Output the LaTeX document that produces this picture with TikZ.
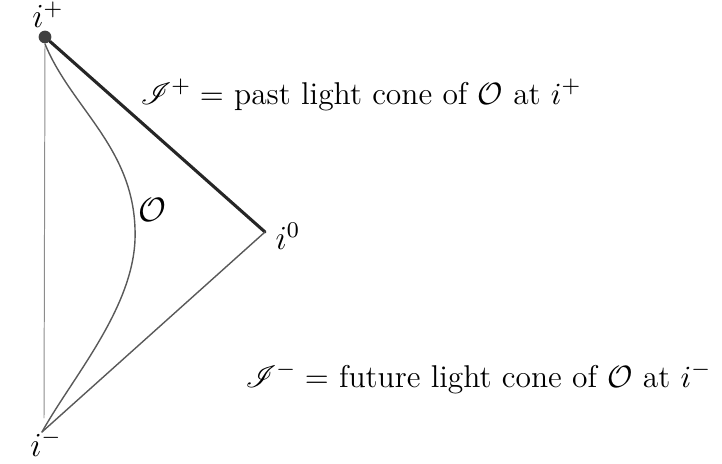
\documentclass[tikz,border=0pt]{standalone}
\usepackage{mathrsfs}
\tikzset{
  pencil/.style={draw=black!65, line width=0.5pt, line cap=round},
  boldpencil/.style={draw=black!85, line width=1.1pt, line cap=round},
  faint/.style={draw=black!45, line width=0.35pt, line cap=round},
  lbl/.style={inner sep=0.5pt, font=\large},
  txt/.style={inner sep=0pt, anchor=west, font=\fontsize{11.2}{13}\selectfont}
}
\begin{document}
\begin{tikzpicture}[x=0.0125cm, y=-0.0125cm]
\useasboundingbox (0,0) rectangle (722,464);
\node[circle, fill=black!75, inner sep=1.6pt] (ip) at (45,37) {};
\coordinate (i0) at (265,232);
\coordinate (im) at (42,432);
\coordinate (apex) at (135,240);
\coordinate (vt) at (45,46);
\coordinate (vb) at (44,418);
\node[lbl] (lip) at (48,15) {$i^+$};
\node[lbl] (li0) at (288,236) {$i^0$};
\node[lbl, anchor=south] (lim) at (46,458) {$i^-$};
\node[lbl] (lO) at (152,210) {$\mathcal{O}$};
\draw[faint] (vt) -- (vb);
\draw[boldpencil] (ip) -- (i0);
\draw[pencil] (i0) -- (im);
\draw[pencil] (ip.south) .. controls (72,110) and (138,150) .. (apex)
  .. controls (132,310) and (72,378) .. (im);
\node[txt] (tp) at (140,95) {$\mathscr{I}^+ =$ past light cone of $\mathcal{O}$ at $i^+$};
\node[txt] (tm) at (245,378) {$\mathscr{I}^- =$ future light cone of $\mathcal{O}$ at $i^-$};
\end{tikzpicture}
\end{document}
